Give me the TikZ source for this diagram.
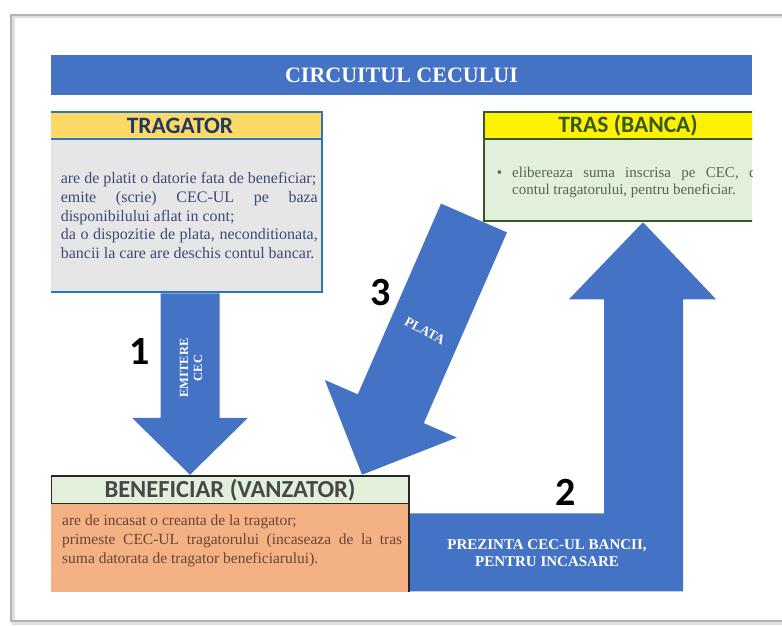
\documentclass[tikz,border=0pt]{standalone}
\usepackage{fontspec}
\setmainfont{Liberation Serif}
\newfontfamily\headfont{Carlito}
\usepackage{xcolor}
\usetikzlibrary{positioning,calc}
\hyphenpenalty=10000
\exhyphenpenalty=10000

\definecolor{slideblue}{HTML}{4472C4}
\definecolor{tragblue}{HTML}{2E75B6}
\definecolor{tragyellow}{HTML}{FFD966}
\definecolor{traggray}{HTML}{E7E6E6}
\definecolor{tragink}{HTML}{3B4A78}
\definecolor{navy}{HTML}{1F3864}
\definecolor{trasgreen}{HTML}{385723}
\definecolor{palegreen}{HTML}{E2EFDA}
\definecolor{trasink}{HTML}{56664A}
\definecolor{benefdark}{HTML}{262626}
\definecolor{salmon}{HTML}{F4B183}
\definecolor{benefink}{HTML}{6B4535}

% block arrow between two points: from, to, half shaft, half head, head length
\newcommand\blockarrow[5]{%
  \fill[slideblue] let \p1=($(#2)-(#1)$), \n1={veclen(\x1,\y1)}, \n2={atan2(\y1,\x1)} in
    [shift={(#1)}, rotate=\n2]
    (0,-#3) -- (\n1-#5,-#3) -- (\n1-#5,-#4) -- (\n1,0) -- (\n1-#5,#4)
    -- (\n1-#5,#3) -- (0,#3) -- cycle;}

\begin{document}
\begin{tikzpicture}[x=1pt,y=-1pt,
 head/.style={rectangle, draw, line width=2.5pt, inner sep=0pt, outer sep=0pt,
   minimum height=27pt, font=\headfont\bfseries\fontsize{23.5}{26}\selectfont},
 panel/.style={rectangle, line width=2.5pt, inner sep=0pt, outer sep=0pt},
 bodytext/.style={inner sep=0pt, align=justify, font=\fontsize{16}{18.8}\selectfont},
 arrowtext/.style={text=white, align=center, font=\bfseries\fontsize{12.5}{14}\selectfont},
 stepno/.style={font=\headfont\bfseries\fontsize{40}{40}\selectfont}]
 \useasboundingbox (0,0) rectangle (782,626);
 \fill[white] (0,0) rectangle (782,626);
 % slide frame
 \draw[black!12, line width=3pt] (782,17) -- (13,17) -- (13,623) -- (782,623);
 \draw[black!30, line width=1.2pt] (782,15) -- (11,15) -- (11,621) -- (782,621);

 \begin{scope}
 \clip (51,0) rectangle (752,626);
 \node[panel, fill=slideblue, minimum width=701pt, minimum height=40pt, text=white,
   font=\bfseries\fontsize{22}{24}\selectfont] (title) at (401.5,75) {CIRCUITUL CECULUI};

 % boxes
 \node[head, draw=tragblue, fill=tragyellow, text=navy, minimum width=284pt] (traghead) at (180,125.5) {TRAGATOR};
 \node[panel, draw=tragblue, fill=traggray, minimum width=284pt, minimum height=153pt, below=0pt of traghead] (tragbody) {};
 \node[head, draw=trasgreen, fill=yellow, text=trasgreen, minimum width=288pt] (trashead) at (628,125.5) {TRAS (BANCA)};
 \node[panel, draw=trasgreen, fill=palegreen, minimum width=288pt, minimum height=82pt, below=0pt of trashead] (trasbody) {};
 \node[head, draw=benefdark, fill=palegreen, text=benefdark!85, minimum width=358pt, minimum height=28pt,
   font=\headfont\bfseries\fontsize{24.5}{26}\selectfont] (benefhead) at (230,490) {BENEFICIAR (VANZATOR)};
 \node[panel, fill=salmon, minimum width=358pt, minimum height=88pt, below=0pt of benefhead] (benefbody) {};
 \draw[benefdark, line width=2.5pt] (benefbody.north east) -- (benefbody.south east);

 % arrows
 \coordinate (a2tip) at ([xshift=15pt, yshift=-1.25pt]trasbody.south);
 \fill[slideblue] (a2tip) -- ++(73,77) -- ++(-33,0) -- ++(0,292) -- ++(-273,0)
   -- ++(0,-78) -- ++(194,0) -- ++(0,-214) -- ++(-35,0) -- cycle;
 \blockarrow{[xshift=10pt, yshift=-1.25pt]tragbody.south}{[xshift=-40pt, yshift=1.25pt]benefhead.north}{29.5}{58}{57}
 \blockarrow{[shift={(-10,-3)}]trasbody.south west}{[xshift=-47pt, yshift=1.25pt]benefhead.north east}{36}{72}{72}

 % box texts
 \node[bodytext, text=tragink, text width=257pt, anchor=east] (tragtext) at ([xshift=-4pt]tragbody.east)
  {are de platit o datorie fata de beneficiar;\par
   emite (scrie) CEC-UL pe baza disponibilului aflat in cont;\par
   da o dispozitie de plata, neconditionata, bancii la care are deschis contul bancar.};
 \node[bodytext, text=trasink, text width=256pt, anchor=north west,
   font=\fontsize{15}{17}\selectfont] (trastext) at ([shift={(28,28)}]trasbody.north west)
  {\leavevmode\llap{\textbullet\hspace{10pt}}elibereaza suma inscrisa pe CEC, din contul tragatorului, pentru beneficiar.};
 \node[bodytext, text=benefink, text width=340pt, anchor=north west,
   font=\fontsize{15.5}{19}\selectfont] (beneftext) at ([shift={(11,11)}]benefbody.north west)
  {are de incasat o creanta de la tragator;\par
   primeste CEC-UL tragatorului (incaseaza de la tras suma datorata de tragator beneficiarului).};

 % arrow labels
 \node[arrowtext, rotate=90] (emit) at (191,368) {EMITERE\\CEC};
 \node[arrowtext, rotate=-29, font=\bfseries\fontsize{13.5}{15}\selectfont] (plata) at (425,331) {PLATA};
 \node[arrowtext, font=\bfseries\fontsize{15}{17}\selectfont] (prez) at (547,553) {PREZINTA CEC-UL BANCII,\\PENTRU INCASARE};
 \node[stepno] (n1) at (140,352) {1};
 \node[stepno] (n2) at (566,492) {2};
 \node[stepno] (n3) at (381,293) {3};
 \end{scope}
\end{tikzpicture}
\end{document}
